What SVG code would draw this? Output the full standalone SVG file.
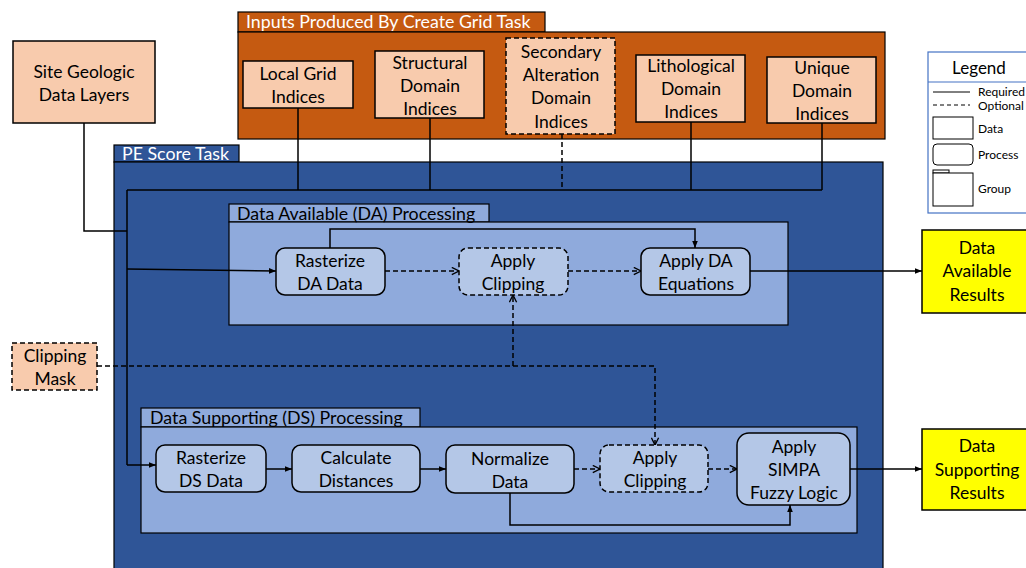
<svg xmlns="http://www.w3.org/2000/svg" width="1026" height="568" viewBox="0 0 1026 568">
<defs>
<style>
text{font-family:Lato,"Noto Sans","Liberation Sans",sans-serif;fill:#000;}
.t{font-size:17.5px;text-anchor:middle;}
.tab{font-size:17.8px;}
.w{fill:#fff;}
.data{fill:#F8CBAD;stroke:#000;stroke-width:1.5;}
.proc{fill:#B4C7E7;stroke:#000;stroke-width:1.5;}
.res{fill:#FFFF00;stroke:#000;stroke-width:1.5;}
.dash{stroke-dasharray:5,3;}
.ln{fill:none;stroke:#000;stroke-width:1.5;}
.ld{fill:none;stroke:#000;stroke-width:1.5;stroke-dasharray:5,3;}
.lg{font-size:12px;}
</style>
<marker id="af" viewBox="0 0 10 10" refX="10" refY="5" markerWidth="7" markerHeight="7" markerUnits="userSpaceOnUse" orient="auto"><path d="M0,1 L10,5 L0,9 z" fill="#000"/></marker>
<marker id="ao" viewBox="0 0 10 10" refX="9" refY="5" markerWidth="9" markerHeight="9" markerUnits="userSpaceOnUse" orient="auto"><path d="M1,1 L9,5 L1,9" fill="none" stroke="#000" stroke-width="1.5"/></marker>
</defs>

<!-- Orange group -->
<g id="inputs-group">
<rect x="238" y="12" width="307" height="20" fill="#C55A11" stroke="#000" stroke-width="1.2"/>
<rect x="238" y="32" width="647" height="107" fill="#C55A11" stroke="#000" stroke-width="1.2"/>
<text x="246" y="28" class="tab w">Inputs Produced By Create Grid Task</text>
</g>

<!-- PE Score group -->
<g id="pe-group">
<rect x="114" y="145" width="125" height="17" fill="#2F5597" stroke="#000" stroke-width="1.2"/>
<rect x="114" y="162" width="769" height="410" fill="#2F5597" stroke="#000" stroke-width="1.2"/>
<text x="122" y="160" class="tab w">PE Score Task</text>
</g>

<g id="da-group">
<rect x="229" y="204" width="260" height="18" fill="#8FAADC" stroke="#000" stroke-width="1.2"/>
<rect x="229" y="222" width="559" height="103" fill="#8FAADC" stroke="#000" stroke-width="1.2"/>
<text x="237" y="220" class="tab">Data Available (DA) Processing</text>
</g>

<g id="ds-group">
<rect x="141" y="408" width="279" height="19" fill="#8FAADC" stroke="#000" stroke-width="1.2"/>
<rect x="141" y="427" width="716" height="106" fill="#8FAADC" stroke="#000" stroke-width="1.2"/>
<text x="150" y="424" class="tab">Data Supporting (DS) Processing</text>
</g>

<!-- Connectors -->
<g id="connectors">
<path class="ln" d="M298,108 V190 M430,118 V190 M691,122 V190 M822,123 V190 M127,190 H822"/>
<path class="ld" d="M562,134 V190"/>
<path class="ln" d="M84,123 V231 H127 M127,190 V465"/>
<path class="ln" d="M127,269 L276,271" marker-end="url(#af)"/>
<path class="ln" d="M127,465 H156" marker-end="url(#af)"/>
<path class="ln" d="M330,248 V229 H695 V248" marker-end="url(#af)"/>
<path class="ld" d="M385,271 H459" marker-end="url(#ao)"/>
<path class="ld" d="M568,271 H641" marker-end="url(#ao)"/>
<path class="ln" d="M750,271 H922" marker-end="url(#af)"/>
<path class="ld" d="M97,366 H655 V445" marker-end="url(#ao)"/>
<path class="ld" d="M513,366 V295" marker-end="url(#ao)"/>
<path class="ln" d="M266,469 H292" marker-end="url(#af)"/>
<path class="ln" d="M420,469 H446" marker-end="url(#af)"/>
<path class="ld" d="M574,469 H600" marker-end="url(#ao)"/>
<path class="ld" d="M708,469 H737" marker-end="url(#ao)"/>
<path class="ln" d="M510,493 V525 H790 V505" marker-end="url(#af)"/>
<path class="ln" d="M850,469 H922" marker-end="url(#af)"/>
</g>

<!-- Nodes -->
<g id="site-geologic">
<rect class="data" x="13" y="41" width="142" height="82"/>
<text class="t" x="84" y="78">Site Geologic</text>
<text class="t" x="84" y="101">Data Layers</text>
</g>
<g id="local-grid">
<rect class="data" x="243" y="61" width="110" height="47"/>
<text class="t" x="298" y="80">Local Grid</text>
<text class="t" x="298" y="103">Indices</text>
</g>
<g id="structural">
<rect class="data" x="375" y="51" width="109" height="67"/>
<text class="t" x="430" y="69">Structural</text>
<text class="t" x="430" y="92">Domain</text>
<text class="t" x="430" y="115">Indices</text>
</g>
<g id="secondary">
<rect class="data dash" x="506" y="38" width="109" height="96"/>
<text class="t" x="561" y="58">Secondary</text>
<text class="t" x="561" y="81">Alteration</text>
<text class="t" x="561" y="104">Domain</text>
<text class="t" x="561" y="128">Indices</text>
</g>
<g id="lithological">
<rect class="data" x="636" y="55" width="109" height="67"/>
<text class="t" x="691" y="72">Lithological</text>
<text class="t" x="691" y="95">Domain</text>
<text class="t" x="691" y="118">Indices</text>
</g>
<g id="unique">
<rect class="data" x="767" y="57" width="109" height="66"/>
<text class="t" x="822" y="74">Unique</text>
<text class="t" x="822" y="97">Domain</text>
<text class="t" x="822" y="120">Indices</text>
</g>
<g id="clipping-mask">
<rect class="data dash" x="12" y="343" width="85" height="47"/>
<text class="t" x="55" y="362">Clipping</text>
<text class="t" x="55" y="385">Mask</text>
</g>

<g id="rasterize-da">
<rect class="proc" x="276" y="248" width="109" height="47" rx="9"/>
<text class="t" x="330" y="267">Rasterize</text>
<text class="t" x="330" y="290">DA Data</text>
</g>
<g id="clip-da">
<rect class="proc dash" x="459" y="248" width="109" height="47" rx="9"/>
<text class="t" x="513" y="267">Apply</text>
<text class="t" x="513" y="290">Clipping</text>
</g>
<g id="apply-da">
<rect class="proc" x="641" y="248" width="109" height="47" rx="9"/>
<text class="t" x="696" y="267">Apply DA</text>
<text class="t" x="696" y="290">Equations</text>
</g>
<g id="da-results">
<rect class="res" x="922" y="230" width="110" height="83"/>
<text class="t" x="977" y="254">Data</text>
<text class="t" x="977" y="277">Available</text>
<text class="t" x="977" y="301">Results</text>
</g>

<g id="rasterize-ds">
<rect class="proc" x="156" y="445" width="110" height="47" rx="9"/>
<text class="t" x="211" y="464">Rasterize</text>
<text class="t" x="211" y="487">DS Data</text>
</g>
<g id="calc-dist">
<rect class="proc" x="292" y="445" width="128" height="47" rx="9"/>
<text class="t" x="356" y="464">Calculate</text>
<text class="t" x="356" y="487">Distances</text>
</g>
<g id="normalize">
<rect class="proc" x="446" y="445" width="128" height="48" rx="9"/>
<text class="t" x="510" y="465">Normalize</text>
<text class="t" x="510" y="488">Data</text>
</g>
<g id="clip-ds">
<rect class="proc dash" x="600" y="445" width="108" height="47" rx="9"/>
<text class="t" x="655" y="464">Apply</text>
<text class="t" x="655" y="487">Clipping</text>
</g>
<g id="simpa">
<rect class="proc" x="737" y="433" width="113" height="72" rx="12"/>
<text class="t" x="794" y="453">Apply</text>
<text class="t" x="794" y="476">SIMPA</text>
<text class="t" x="794" y="499">Fuzzy Logic</text>
</g>
<g id="ds-results">
<rect class="res" x="922" y="429" width="110" height="81"/>
<text class="t" x="977" y="452">Data</text>
<text class="t" x="977" y="476">Supporting</text>
<text class="t" x="977" y="499">Results</text>
</g>

<!-- Legend -->
<g id="legend">
<rect x="928" y="52" width="110" height="161" fill="#fff" stroke="#4472C4" stroke-width="1.2"/>
<line x1="928" y1="82" x2="1038" y2="82" stroke="#4472C4" stroke-width="1.2"/>
<text x="979" y="74" style="font-size:17px;text-anchor:middle">Legend</text>
<line x1="933" y1="92" x2="970" y2="92" stroke="#000" stroke-width="1"/>
<text class="lg" x="978" y="96">Required</text>
<line x1="933" y1="105" x2="970" y2="105" stroke="#000" stroke-width="1" stroke-dasharray="4,3"/>
<text class="lg" x="978" y="110">Optional</text>
<rect x="933" y="117" width="40" height="22" fill="#fff" stroke="#000" stroke-width="1"/>
<text class="lg" x="978" y="133">Data</text>
<rect x="933" y="144" width="40" height="21" rx="4" fill="#fff" stroke="#000" stroke-width="1"/>
<text class="lg" x="978" y="159">Process</text>
<rect x="933" y="170" width="16" height="3" fill="#fff" stroke="#000" stroke-width="1"/>
<rect x="933" y="173" width="40" height="33" fill="#fff" stroke="#000" stroke-width="1"/>
<text class="lg" x="978" y="193">Group</text>
</g>
</svg>
